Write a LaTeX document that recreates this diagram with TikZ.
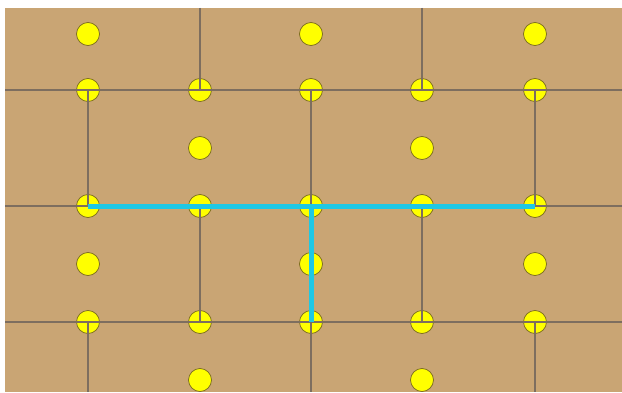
\documentclass[tikz,border=0pt]{standalone}
\definecolor{tan}{RGB}{201,165,116}
\definecolor{dotfill}{RGB}{255,255,0}
\definecolor{dotline}{RGB}{120,105,30}
\definecolor{pathcol}{RGB}{30,200,228}
\definecolor{gridcol}{RGB}{125,110,95}
\begin{document}
\begin{tikzpicture}[x=1pt,y=1pt,
  dot/.style={circle,fill=dotfill,draw=dotline,line width=0.7pt,minimum size=23pt,inner sep=0pt},
  gridline/.style={draw=gridcol,line width=1.1pt},
  pathline/.style={draw=pathcol,line width=5pt}]
\useasboundingbox (0,0) rectangle (622,392);
\fill[white] (0,0) rectangle (622,392);
\fill[tan] (5,0) rectangle (622,384);
% dots: columns 88,200,311,422,535 ; rows y'=358,302,244,186,128,70,12
\foreach \c/\x in {1/88,3/311,5/535} \node[dot] (d\c1) at (\x,358) {};
\foreach \c/\x in {1/88,2/200,3/311,4/422,5/535} \node[dot] (d\c2) at (\x,302) {};
\foreach \c/\x in {2/200,4/422} \node[dot] (d\c3) at (\x,244) {};
\foreach \c/\x in {1/88,2/200,3/311,4/422,5/535} \node[dot] (d\c4) at (\x,186) {};
\foreach \c/\x in {1/88,3/311,5/535} \node[dot] (d\c5) at (\x,128) {};
\foreach \c/\x in {1/88,2/200,3/311,4/422,5/535} \node[dot] (d\c6) at (\x,70) {};
\foreach \c/\x in {2/200,4/422} \node[dot] (d\c7) at (\x,12) {};
% edge coordinates
\coordinate (l2) at (5,302); \coordinate (r2) at (622,302);
\coordinate (l4) at (5,186); \coordinate (r4) at (622,186);
\coordinate (l6) at (5,70);  \coordinate (r6) at (622,70);
\coordinate (t2) at (200,384); \coordinate (t4) at (422,384);
\coordinate (b1) at (88,0); \coordinate (b3) at (311,0); \coordinate (b5) at (535,0);
% grid lines
\path[gridline] (l2) -- (r2);
\path[gridline] (l4) -- (r4);
\path[gridline] (l6) -- (r6);
\path[gridline] (d12.center) -- (d14.center);
\path[gridline] (d16.center) -- (b1);
\path[gridline] (t2) -- (d22.center);
\path[gridline] (d24.center) -- (d26.center);
\path[gridline] (d32.center) -- (b3);
\path[gridline] (t4) -- (d42.center);
\path[gridline] (d44.center) -- (d46.center);
\path[gridline] (d52.center) -- (d54.center);
\path[gridline] (d56.center) -- (b5);
% path
\path[pathline] (d14.center) -- (d54.center);
\path[pathline] (d34.center) -- (d36.center);
\end{tikzpicture}
\end{document}
